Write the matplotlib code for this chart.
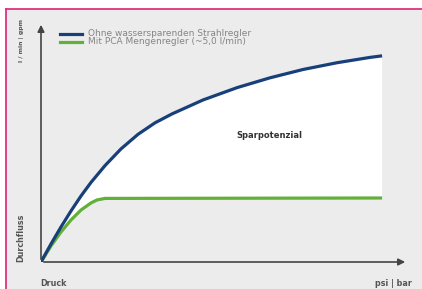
import matplotlib
matplotlib.use("Agg")
import matplotlib.pyplot as plt
from matplotlib.lines import Line2D

# Data (pressure vs. flow, arbitrary units)
blue_x = [0, 0.293, 0.587, 0.880, 1.173, 1.466, 1.877, 2.346, 2.845, 3.343, 3.842,
          4.751, 5.748, 6.716, 7.683, 8.680, 9.648, 10.0]
blue_y = [0, 1.76, 3.42, 4.98, 6.44, 7.76, 9.40, 11.03, 12.45, 13.57, 14.44,
          15.80, 17.00, 17.96, 18.77, 19.43, 19.95, 20.1]
green_x = [0, 0.293, 0.587, 0.880, 1.173, 1.466, 1.642, 1.877, 10.0]
green_y = [0, 1.56, 2.93, 4.10, 5.07, 5.76, 6.05, 6.20, 6.24]
labels = ["Ohne wassersparenden Strahlregler", "Mit PCA Mengenregler (~5,0 l/min)"]

W, H = 422, 289
fig = plt.figure(figsize=(W/100, H/100), dpi=100)
fig.patch.set_facecolor("white")

# grey panel with pink border
bg = fig.add_axes([6/W, 0, 1 - 6/W, (H - 9)/H])
bg.set_facecolor("#ececec")
bg.set_xticks([]); bg.set_yticks([])
for s in ["right", "bottom"]:
    bg.spines[s].set_visible(False)
for s in ["left", "top"]:
    bg.spines[s].set_color("#e2307f")
    bg.spines[s].set_linewidth(1.3)

x0, y0, x1, y1 = 41, 262, 408, 22
ax = fig.add_axes([x0/W, (H - y0)/H, (x1 - x0)/W, (y0 - y1)/H])
ax.set_facecolor("none")
ax.set_xlim(0, 10.76)
ax.set_ylim(0, 23.4)
ax.set_xticks([]); ax.set_yticks([])
for s in ax.spines.values():
    s.set_visible(False)

# white area between curves
ax.fill(blue_x + green_x[::-1], blue_y + green_y[::-1], color="white", zorder=1, lw=0)

ax.plot(green_x, green_y, color="#62b037", lw=2.3, solid_capstyle="butt",
        solid_joinstyle="round", zorder=3)
ax.plot(blue_x, blue_y, color="#17407a", lw=2.3, solid_capstyle="butt",
        solid_joinstyle="round", zorder=4)

# axis arrows
ax.annotate("", xy=(1, 0), xytext=(0, 0), xycoords="axes fraction",
            arrowprops=dict(arrowstyle="-|>,head_length=0.4,head_width=0.2", color="#444", lw=1.2),
            zorder=5)
ax.annotate("", xy=(0, 1), xytext=(0, 0), xycoords="axes fraction",
            arrowprops=dict(arrowstyle="-|>,head_length=0.4,head_width=0.2", color="#444", lw=1.2),
            zorder=5)

fs = 6.5
tc = "#555555"
fig.add_artist(Line2D([60/W, 82/W], [1 - 34/H, 1 - 34/H], color="#17407a", lw=2.3))
fig.add_artist(Line2D([60/W, 82/W], [1 - 42/H, 1 - 42/H], color="#62b037", lw=2.3))
fig.text(88/W, 1 - 34/H, labels[0], fontsize=fs, color="#858585", va="center", ha="left")
fig.text(88/W, 1 - 42/H, labels[1], fontsize=fs, color="#858585", va="center", ha="left")

fig.text(21/W, 1 - 41/H, "l / min | gpm", rotation=90, fontsize=4.4, color=tc,
         fontweight="bold", va="center", ha="center")
fig.text(21/W, 1 - 238/H, "Durchfluss", rotation=90, fontsize=5.8, color=tc,
         fontweight="bold", va="center", ha="center")
fig.text(40/W, 1 - 283/H, "Druck", fontsize=5.8, color=tc, fontweight="bold",
         va="center", ha="left")
fig.text(412/W, 1 - 283/H, "psi | bar", fontsize=5.8, color=tc, fontweight="bold",
         va="center", ha="right")
fig.text(269/W, 1 - 136/H, "Sparpotenzial", fontsize=6, color="#333", fontweight="bold",
         va="center", ha="center")

fig.savefig("out.png", dpi=100)
